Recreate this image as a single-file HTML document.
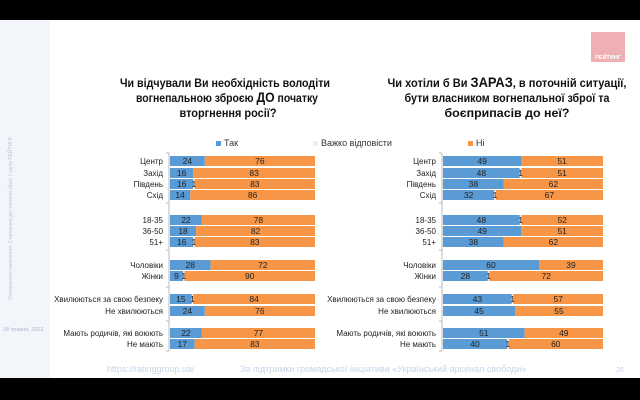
<!DOCTYPE html>
<html><head><meta charset="utf-8"><style>
html,body{margin:0;padding:0;background:#fff}
svg{display:block;font-family:"Liberation Sans",sans-serif}
</style></head><body>
<svg width="640" height="400" viewBox="0 0 640 400" xmlns="http://www.w3.org/2000/svg">
<rect width="640" height="400" fill="#fff"/>
<rect width="640" height="20" fill="#000"/>
<rect y="378" width="640" height="22" fill="#000"/>
<rect x="0" y="20" width="50" height="358" fill="#f2f5f9"/>
<text transform="translate(12,300) rotate(-90)" font-size="5" fill="#b9c6da">Опитування населення: Ставлення до питання зброї | група РЕЙТИНГ</text>
<text x="3" y="331" font-size="5.5" fill="#a9b8d0">18 травня, 2022</text>
<rect x="591" y="32" width="34" height="30" fill="#eeb0b2"/>
<text x="608" y="59" font-size="5.5" fill="#fff" text-anchor="middle" font-weight="bold">РЕЙТИНГ</text>
<g font-size="12" font-weight="bold" fill="#111" text-anchor="middle" lengthAdjust="spacingAndGlyphs">
<text x="225" y="87" textLength="210" lengthAdjust="spacingAndGlyphs">Чи відчували Ви необхідність володіти</text>
<text x="227" y="102" textLength="182" lengthAdjust="spacingAndGlyphs">вогнепальною зброєю <tspan font-size="14">ДО</tspan> початку</text>
<text x="228" y="117" textLength="97" lengthAdjust="spacingAndGlyphs">вторгнення росії?</text>
<text x="507" y="87" textLength="239" lengthAdjust="spacingAndGlyphs">Чи хотіли б Ви <tspan font-size="14">ЗАРАЗ</tspan>, в поточній ситуації,</text>
<text x="507" y="102" textLength="205" lengthAdjust="spacingAndGlyphs">бути власником вогнепальної зброї та</text>
<text x="507" y="117" textLength="125" lengthAdjust="spacingAndGlyphs">боєприпасів до неї?</text>
</g>
<g font-size="9" fill="#333">
<rect x="216" y="141" width="5" height="5" fill="#5b9bd5"/><text x="224" y="146">Так</text>
<rect x="313" y="141" width="5" height="5" fill="#eee"/><text x="321" y="146">Важко відповісти</text>
<rect x="468" y="141" width="5" height="5" fill="#f79646"/><text x="476" y="146">Ні</text>
</g>
<g id="charts" font-size="8.5"></g>
<g font-size="9" fill="#c7d4e8">
<text x="107" y="372">https://ratinggroup.ua/</text>
<text x="240" y="372">За підтримки  громадської ініціативи «Український арсенал свободи»</text>
<text x="616" y="372" font-size="7">26</text>
</g>
</svg>
<script>
const ys=[161,173,184,195,220,231,242,265,276,299,311,333,344];
const labels=["Центр","Захід","Південь","Схід","18-35","36-50","51+","Чоловіки","Жінки","Хвилюються за свою безпеку","Не хвилюються","Мають родичів, які воюють","Не мають"];
const L=[[24,0,76],[16,0,83],[16,1,83],[14,0,86],[22,0,78],[18,0,82],[16,1,83],[28,0,72],[9,1,90],[15,1,84],[24,0,76],[22,0,77],[17,0,83]];
const R=[[49,0,51],[48,1,51],[38,0,62],[32,1,67],[48,1,52],[49,0,51],[38,0,62],[60,0,39],[28,1,72],[43,1,57],[45,0,55],[51,0,49],[40,1,60]];
const g=document.getElementById('charts');const NS="http://www.w3.org/2000/svg";
function el(t,a,txt){const e=document.createElementNS(NS,t);for(const k in a)e.setAttribute(k,a[k]);if(txt!==undefined)e.textContent=txt;g.appendChild(e);return e;}
function chart(x0,w,data){
 el('line',{x1:x0-1,y1:153,x2:x0-1,y2:351,stroke:'#bbb','stroke-width':1});
 [153,203,250,287,321,351].forEach(y=>el('line',{x1:x0-4,y1:y,x2:x0-1,y2:y,stroke:'#bbb','stroke-width':1}));
 data.forEach((d,i)=>{const y=ys[i]-5,s=w/100;const b=d[0]*s,m=d[1]*s;
  el('rect',{x:x0,y:y,width:b,height:10,fill:'#5b9bd5'});
  if(m)el('rect',{x:x0+b,y:y,width:m,height:10,fill:'#eee'});
  el('rect',{x:x0+b+m,y:y,width:w-b-m,height:10,fill:'#f79646'});
  el('text',{x:x0+b/2,y:ys[i]+3,'text-anchor':'middle',fill:'#222'},d[0]);
  if(m)el('text',{x:x0+b+m/2,y:ys[i]+3,'text-anchor':'middle',fill:'#222'},d[1]);
  el('text',{x:x0+b+m+(w-b-m)/2,y:ys[i]+3,'text-anchor':'middle',fill:'#222'},d[2]);
  const t=el('text',{x:x0-7,y:ys[i]+3,'text-anchor':'end',fill:'#222','font-size':'8'},labels[i]);
 });
}
chart(170,145,L);chart(443,160,R);
</script>
</body></html>
